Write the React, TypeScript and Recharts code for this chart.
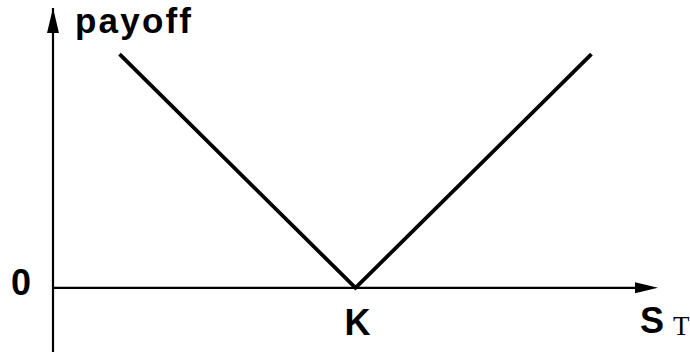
import { Line, LineChart, ReferenceDot, ReferenceLine, XAxis, YAxis } from "recharts";

// straddle payoff: |S_T - K|
const spot = [11, 50, 89];
const payoff = [39, 0, 39];
const strike = 50;
const xDomain: [number, number] = [0, 100];
const yDomain: [number, number] = [-10.7, 46.7];

const bold = "'Liberation Sans', Arial, Helvetica, sans-serif";
const serif = "'Liberation Serif', 'Times New Roman', serif";

const data = spot.map((s, i) => ({ s, payoff: payoff[i] }));

export default function App() {
  return (
    <div style={{ position: "absolute", left: 0, top: 0, width: 690, height: 352, background: "#fff" }}>
      <LineChart
        width={690}
        height={352}
        data={data}
        margin={{ top: 8, right: 32, bottom: 0, left: 53 }}
      >
        <XAxis type="number" dataKey="s" domain={xDomain} hide />
        <YAxis type="number" domain={yDomain} hide />
        <ReferenceLine x={0} stroke="#000" strokeWidth={2.2} />
        <ReferenceLine
          segment={[{ x: 0, y: 0 }, { x: 97, y: 0 }]}
          stroke="#000"
          strokeWidth={2.2}
        />
        <Line
          dataKey="payoff"
          stroke="#000"
          strokeWidth={3.8}
          dot={false}
          isAnimationActive={false}
        />
        {/* arrow heads */}
        <ReferenceDot
          x={xDomain[1]}
          y={0}
          shape={(p: any) => (
            <path d={`M${p.cx},${p.cy} L${p.cx - 23},${p.cy - 5.5} L${p.cx - 23},${p.cy + 5.5} Z`} fill="#000" />
          )}
        />
        <ReferenceDot
          x={0}
          y={yDomain[1]}
          shape={(p: any) => (
            <path d={`M${p.cx},${p.cy} L${p.cx - 6},${p.cy + 25} L${p.cx + 6},${p.cy + 25} Z`} fill="#000" />
          )}
        />
        {/* text labels */}
        <ReferenceDot
          x={0}
          y={yDomain[1]}
          shape={(p: any) => (
            <text x={p.cx + 22} y={p.cy + 25} fontFamily={bold} fontWeight="bold" fontSize={35} letterSpacing={2.2}>
              payoff
            </text>
          )}
        />
        <ReferenceDot
          x={0}
          y={0}
          shape={(p: any) => (
            <text x={p.cx - 42} y={p.cy + 7} fontFamily={bold} fontWeight="bold" fontSize={36}>
              0
            </text>
          )}
        />
        <ReferenceDot
          x={strike}
          y={0}
          shape={(p: any) => (
            <text x={p.cx + 2} y={p.cy + 47} textAnchor="middle" fontFamily={bold} fontWeight="bold" fontSize={36}>
              K
            </text>
          )}
        />
        <ReferenceDot
          x={xDomain[1]}
          y={0}
          shape={(p: any) => (
            <text x={p.cx - 18} y={p.cy + 45}>
              <tspan fontFamily={bold} fontWeight="bold" fontSize={36}>S</tspan>
              <tspan fontFamily={serif} fontSize={27} dx={9} dy={2}>T</tspan>
            </text>
          )}
        />
      </LineChart>
    </div>
  );
}
